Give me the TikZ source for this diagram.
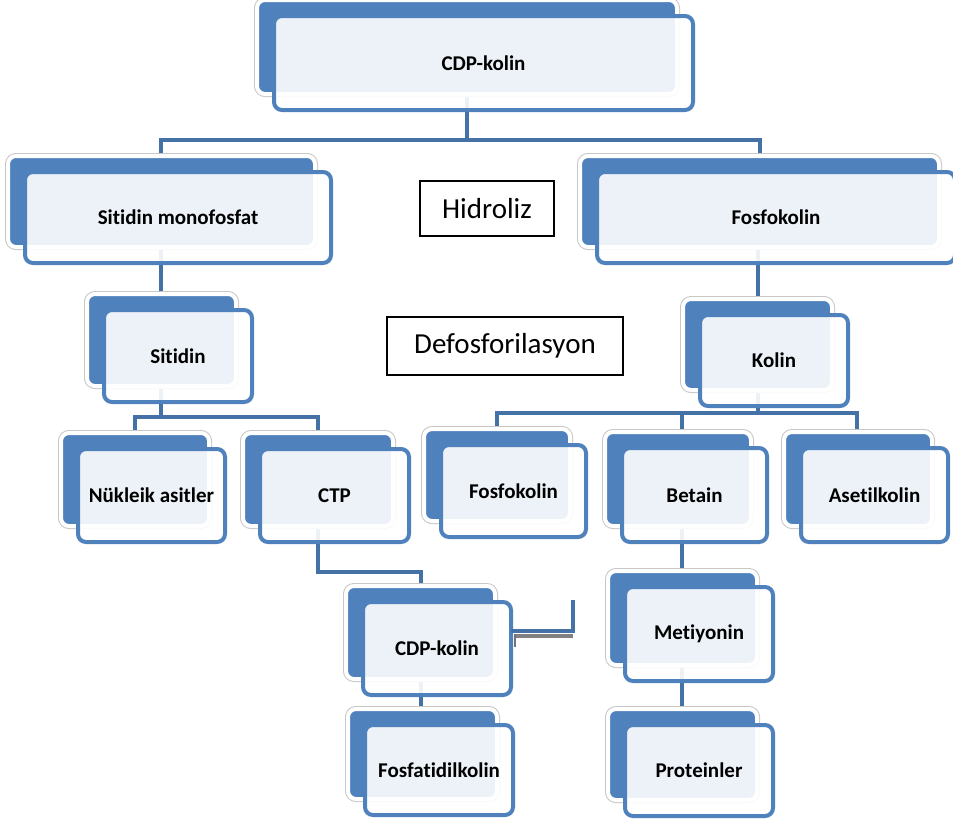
\documentclass[tikz,border=0pt]{standalone}
\usepackage{fontspec}
\setmainfont{Carlito}[Ligatures={NoCommon}]
\definecolor{accblue}{HTML}{4F81BD}
\definecolor{connblue}{HTML}{4471A6}
\pgfdeclarelayer{bg}
\pgfsetlayers{bg,main}
\tikzset{
  backbox/.style={rectangle, rounded corners=8pt, fill=accblue, draw=white, line width=4pt,
    preaction={draw=black!22, line width=6pt}, inner sep=0pt, outer sep=0pt},
  frontbox/.style={rectangle, rounded corners=8pt, fill=white, fill opacity=0.9, text opacity=1,
    draw=accblue, draw opacity=1, line width=4pt, inner sep=0pt, outer sep=0pt,
    font=\bfseries\fontsize{21}{24}\selectfont},
  conn/.style={draw=connblue, line width=4pt},
  labelbox/.style={rectangle, draw=black, line width=1.3pt, fill=white, inner sep=0pt,
    font=\fontsize{29}{32}\selectfont},
  shadowline/.style={draw=black!50, line width=4pt}
}
\newcommand\orgbox[6]{%
  \node[backbox, minimum width={#4-#2-3}, minimum height={#5-#3-4}] (#1B)
    at ({(#2+#4)/2-16.5},{(#3+#5)/2-16}) {};
  \node[frontbox, minimum width={#4-#2-4}, minimum height={#5-#3-4}] (#1)
    at ({(#2+#4)/2},{(#3+#5)/2}) {#6};
}
\begin{document}
\begin{tikzpicture}[x=1pt, y=-1pt]
\useasboundingbox (0,0) rectangle (953,825);
\begin{pgfonlayer}{bg}
  \fill[white] (0,0) rectangle (953,825);
\end{pgfonlayer}

\orgbox{cdpa}{272}{14}{695}{112}{CDP-kolin}
\orgbox{smf}{23}{170}{333}{265}{Sitidin monofosfat}
\orgbox{fosa}{595}{170}{957}{265}{Fosfokolin}
\orgbox{kolin}{698}{313}{850}{408}{Kolin}
\orgbox{sitidin}{102}{308}{254}{404}{Sitidin}
\orgbox{nuk}{76}{447}{227}{544}{Nükleik asitler}
\orgbox{ctp}{258}{447}{411}{544}{CTP}
\orgbox{fosb}{439}{443}{588}{539}{Fosfokolin}
\orgbox{betain}{620}{446}{769}{544}{Betain}
\orgbox{aset}{799}{446}{950}{544}{Asetilkolin}
\orgbox{cdpb}{361}{600}{513}{697}{CDP-kolin}
\orgbox{fosfat}{363}{723}{515}{817}{Fosfatidilkolin}
\orgbox{met}{623}{585}{775}{683}{Metiyonin}
\orgbox{prot}{623}{723}{775}{818}{Proteinler}

\node[labelbox, minimum width=134, minimum height=55] (hid) at (487,208.5) {Hidroliz};
\node[labelbox, minimum width=236, minimum height=58] (defo) at (505,346) {Defosforilasyon};

% junction coordinates
\coordinate (t0) at (467,140);
\coordinate (tL) at (161,140);
\coordinate (tR) at (760,140);
\coordinate (s0) at (161,417);
\coordinate (sL) at (135,417);
\coordinate (sR) at (318,417);
\coordinate (c0) at (318,572);
\coordinate (c1) at (421,572);
\coordinate (k0) at (758,413);
\coordinate (kL) at (497,413);
\coordinate (kM) at (682,413);
\coordinate (kR) at (857,413);

\begin{pgfonlayer}{bg}
  \draw[conn] (cdpa.center -| t0) -- (t0);
  \draw[conn] (smfB.north -| tL) -- (tL) -- (tR) -- (fosaB.north -| tR);
  \draw[conn] (smf.center -| s0) -- (sitidinB.north -| s0);
  \draw[conn] (sitidin.center -| s0) -- (s0);
  \draw[conn] (nukB.north -| sL) -- (sL) -- (sR) -- (ctpB.north -| sR);
  \draw[conn] (ctp.center -| c0) -- (c0) -- (c1) -- (cdpbB.north -| c1);
  \draw[conn] (cdpb.center -| c1) -- (fosfatB.north -| c1);
  \draw[conn] (fosa.center -| k0) -- (kolinB.north -| k0);
  \draw[conn] (kolin.center -| k0) -- (k0);
  \draw[conn] (fosbB.north -| kL) -- (kL) -- (kR) -- (asetB.north -| kR);
  \draw[conn] (kM) -- (betainB.north -| kM);
  \draw[conn] (betain.center -| kM) -- (metB.north -| kM);
  \draw[conn] (met.center -| kM) -- (protB.north -| kM);
\end{pgfonlayer}

% loose bracket right of the lower CDP-kolin
\coordinate (bk1) at (573,631);
\coordinate (bk2) at (573,600);
\coordinate (bk0) at (cdpb.east |- bk1);
\draw[shadowline] ([xshift=4pt,yshift=-5pt]bk0) -- ([yshift=-5pt]bk1);
\draw[conn] (bk0) -- (bk1) -- (bk2);
\draw[draw=black!55, line width=2.5pt] ([xshift=4pt,yshift=-3pt]bk0) -- ([xshift=4pt,yshift=-16pt]bk0);
\end{tikzpicture}
\end{document}
